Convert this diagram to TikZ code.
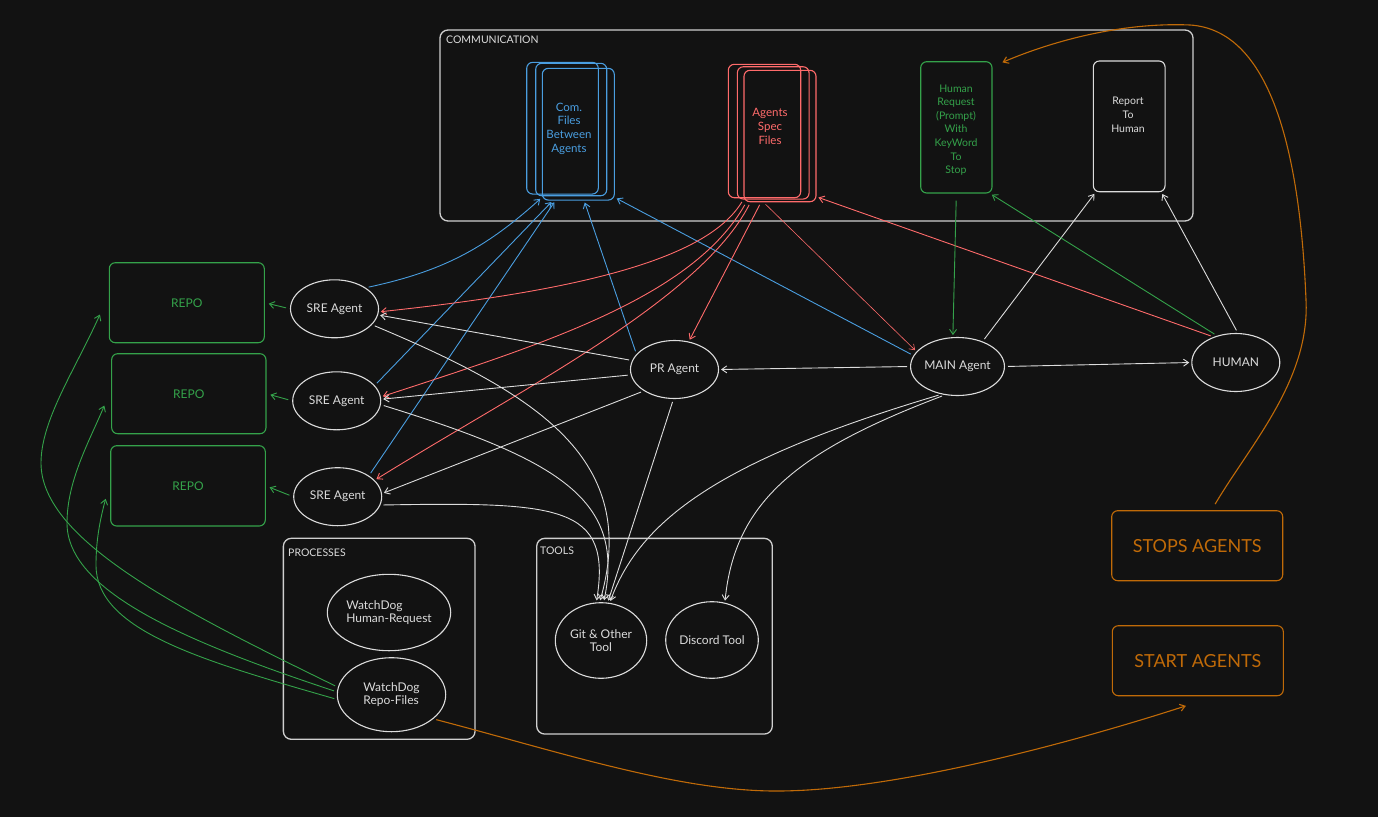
\documentclass[tikz,border=0pt]{standalone}
\usepackage{fontspec}
\setmainfont{Lato}
\usetikzlibrary{arrows.meta,shapes.geometric}
\definecolor{bg}{HTML}{121212}
\definecolor{ink}{HTML}{DCDCDC}
\definecolor{frame}{HTML}{CFCFCF}
\definecolor{cblue}{HTML}{4A9EE0}
\definecolor{cred}{HTML}{FF6B6B}
\definecolor{cgreen}{HTML}{34A24A}
\definecolor{corange}{HTML}{C06A08}
\begin{document}
\begin{tikzpicture}[x=1pt,y=-1pt,
  container/.style={draw=frame,line width=1.3pt,rounded corners=8pt,inner sep=0pt},
  card/.style={draw,line width=1.1pt,rounded corners=6pt,inner sep=0pt},
  agent/.style={ellipse,draw=ink,line width=1.1pt,inner sep=0pt,text=ink,
    minimum width=88pt,minimum height=58pt,font=\fontsize{12}{13.5}\selectfont,align=center},
  caption/.style={anchor=north west,inner sep=0pt,text=ink,font=\fontsize{10.5}{12}\selectfont},
  cardtext/.style={inner sep=0pt,align=center,font=\fontsize{11.5}{13.7}\selectfont},
  link/.style={line width=0.9pt,-{Straight Barb[length=5pt,width=7pt]},shorten >=2pt,shorten <=3pt},
  wlink/.style={link,draw=ink},
  blink/.style={link,draw=cblue},
  rlink/.style={link,draw=cred},
  glink/.style={link,draw=cgreen},
  olink/.style={link,draw=corange,line width=1.1pt}]

\fill[bg] (0,0) rectangle (1378,817);
\useasboundingbox (0,0) rectangle (1378,817);

% ---------- groups ----------
\node[container,minimum width=753pt,minimum height=191pt] (comm) at (816.5,125.5) {};
\node[caption] (commlabel) at (446,36) {COMMUNICATION};
\node[container,minimum width=191.7pt,minimum height=201pt] (procs) at (379.2,638.8) {};
\node[caption] (procslabel) at (288,548.5) {PROCESSES};
\node[container,minimum width=235.6pt,minimum height=195.7pt] (tools) at (654.5,636.2) {};
\node[caption] (toolslabel) at (540,546.5) {TOOLS};

% ---------- communication files ----------
\node[card,draw=cblue,minimum width=71.6pt,minimum height=131.7pt] (com1) at (562.5,128.2) {};
\node[card,draw=cblue,minimum width=71pt,minimum height=132.4pt] (com2) at (571.2,129.5) {};
\node[card,draw=cblue,minimum width=72pt,minimum height=131.7pt] (com3) at (578.3,134.2) {};
\node[cardtext,text=cblue] (comtext) at (569,128.5) {Com.\\Files\\Between\\Agents};

\node[card,draw=cred,minimum width=72.4pt,minimum height=133.4pt] (spec1) at (764.5,131) {};
\node[card,draw=cred,minimum width=71.7pt,minimum height=132.3pt] (spec2) at (773.2,132.9) {};
\node[card,draw=cred,minimum width=72pt,minimum height=131.4pt] (spec3) at (780,136) {};
\node[cardtext,text=cred] (spectext) at (770,126.5) {Agents\\Spec\\Files};

\node[card,draw=cgreen,minimum width=71.3pt,minimum height=131.3pt] (req) at (956.35,127.35) {};
\node[cardtext,text=cgreen,font=\fontsize{10.5}{13.6}\selectfont] (reqtext) at (956,130) {Human\\Request\\(Prompt)\\With\\KeyWord\\To\\Stop};

\node[card,draw=ink,minimum width=71.7pt,minimum height=130.7pt] (report) at (1129.2,126.35) {};
\node[cardtext,text=ink,font=\fontsize{10.5}{13.7}\selectfont] (reporttext) at (1128,114.7) {Report\\To\\Human};

% ---------- repositories ----------
\tikzset{repobox/.style={card,draw=cgreen,text=cgreen,font=\fontsize{12}{13}\selectfont}}
\node[repobox,minimum width=155pt,minimum height=80pt] (repo1) at (186.8,302.7) {REPO};
\node[repobox,minimum width=154.3pt,minimum height=80pt] (repo2) at (188.8,393.7) {REPO};
\node[repobox,minimum width=154.6pt,minimum height=80.3pt] (repo3) at (188,485.85) {REPO};

% ---------- agents ----------
\node[agent] (sre1) at (334.5,308.8) {SRE Agent};
\node[agent] (sre2) at (336.7,400.8) {SRE Agent};
\node[agent] (sre3) at (337.7,496.7) {SRE Agent};
\node[agent] (pr) at (674.5,369.5) {PR Agent};
\node[agent] (main) at (957.5,366.5) {MAIN Agent};
\node[agent] (human) at (1235.8,362.5) {HUMAN};

% ---------- processes and tools ----------
\node[agent,minimum width=123.4pt,minimum height=76.4pt,align=left] (wdhuman) at (389,612.5) {WatchDog\\Human-Request};
\node[agent,minimum width=108.4pt,minimum height=74pt,align=left] (wdrepo) at (391.5,694.7) {WatchDog\\Repo-Files};
\node[agent,minimum width=91.4pt,minimum height=75.6pt] (git) at (601,640.5) {Git \& Other\\Tool};
\node[agent,minimum width=90.6pt,minimum height=76.6pt] (discord) at (712,640) {Discord Tool};

% ---------- switches ----------
\tikzset{switchbox/.style={card,draw=corange,text=corange,minimum width=171pt,minimum height=70pt,font=\fontsize{18}{20}\selectfont}}
\node[switchbox] (stops) at (1197.2,545.7) {STOPS AGENTS};
\node[switchbox] (start) at (1197.8,660.7) {START AGENTS};

% ---------- agents write to the shared files ----------
\draw[blink] (sre1.34) to[bend right=15] (com3.240);
\draw[blink] (sre2.22) -- (com3.249);
\draw[blink] (sre3.34) -- (com3.251);
\draw[blink] (pr.158) -- (com3.275);
\draw[blink] (main.166) -- (com3.300);

% ---------- specs read by the agents ----------
\draw[rlink] (spec3.240) .. controls (708,258) and (585,290) .. (sre1.-4);
\draw[rlink] (spec3.243) .. controls (692,298) and (540,345) .. (sre2.5);
\draw[rlink] (spec3.246) .. controls (700,300) and (520,390) .. (sre3.24);
\draw[rlink] (spec3.254) -- (pr.63);
\draw[rlink,line width=0.6pt] (spec3.256) -- (main.160);
\draw[rlink] (human.131) -- (spec3.301);

% ---------- control flow ----------
\draw[wlink] (main.west) -- (pr.east);
\draw[wlink] (main.east) -- (human.west);
\draw[wlink] (main.45) -- (report.243);
\draw[wlink] (human.86) -- (report.296);
\draw[wlink] (pr.168) -- (sre1.-8);
\draw[wlink] (pr.187) -- (sre2.2);
\draw[wlink] (pr.215) -- (sre3.4);

\draw[glink,shorten <=7pt] (req.south) -- (main.99);
\draw[glink] (human.125) -- (req.-63);

% ---------- tool usage ----------
\draw[wlink] (sre1.-23) .. controls (540,395) and (640,460) .. (git.92);
\draw[wlink] (sre2.-5) .. controls (560,460) and (625,500) .. (git.86);
\draw[wlink] (sre3.-11) .. controls (560,502) and (612,505) .. (git.97);
\draw[wlink] (pr.268) -- (git.80);
\draw[wlink] (main.240) .. controls (720,460) and (640,520) .. (git.77);
\draw[wlink] (main.246) .. controls (800,450) and (735,500) .. (discord.71);

% ---------- agents push to repos ----------
\draw[glink,shorten <=4pt,shorten >=4pt] (sre1.west) -- (repo1.east);
\draw[glink,shorten <=4pt,shorten >=4pt] (sre2.west) -- (repo2.east);
\draw[glink,shorten <=4pt,shorten >=4pt] (sre3.west) -- (repo3.east);

% ---------- watchdog on repo files ----------
\draw[glink] (wdrepo.172) .. controls (180,610) and (41,540) .. (41,463)
  .. controls (41,420) and (75,370) .. ([xshift=-8pt,yshift=-10pt]repo1.west);
\draw[glink] (wdrepo.177) .. controls (180,640) and (67,590) .. (67,523)
  .. controls (67,480) and (90,440) .. ([xshift=-6pt,yshift=-10pt]repo2.west);
\draw[glink] (wdrepo.185) .. controls (200,660) and (96,630) .. (96,565)
  .. controls (96,540) and (100,520) .. ([xshift=-4pt,yshift=-11pt]repo3.west);

% ---------- start / stop ----------
\draw[olink] (wdrepo.-30) .. controls (560,752) and (680,792) .. (780,791)
  .. controls (900,790) and (1080,740) .. ([xshift=-10pt,yshift=-9pt]start.south);
\draw[olink,shorten <=7pt] (stops.68) .. controls (1250,445) and (1310,380) .. (1306,300)
  .. controls (1300,150) and (1270,30) .. (1190,25)
  .. controls (1120,22) and (1050,42) .. ([xshift=8pt,yshift=-2pt]req.north east);
\end{tikzpicture}
\end{document}
